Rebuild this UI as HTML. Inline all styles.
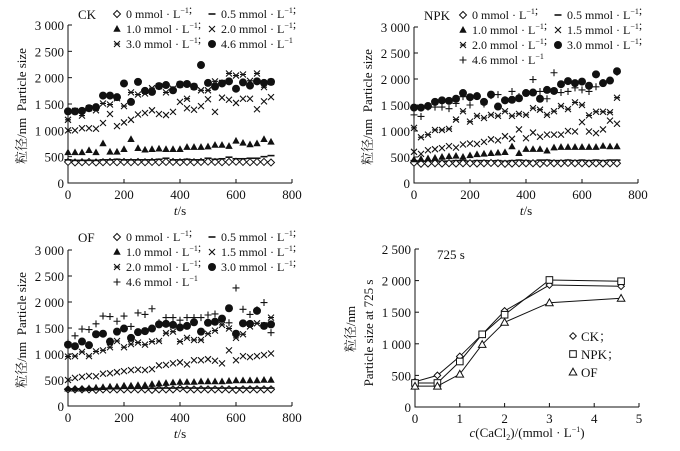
<!DOCTYPE html>
<html><head><meta charset="utf-8"><style>
body{margin:0;background:#fff}
svg{display:block;font-family:"Liberation Serif","Noto Serif CJK SC",serif}
</style></head><body>
<svg id="c" width="680" height="451" viewBox="0 0 680 451"></svg>
<script>
const T=[0,25,50,75,100,125,150,175,200,225,250,275,300,325,350,375,400,425,450,475,500,525,550,575,600,625,650,675,700,725];
const ck0=[400,390,395,400,390,395,400,395,400,395,400,395,400,395,400,400,395,400,395,400,405,400,395,400,405,400,395,400,400,390];
const ck05=[440,430,430,430,430,440,440,450,440,440,440,440,440,450,470,440,440,450,440,440,470,450,460,490,460,460,470,470,500,520];
const ck10=[580,580,580,620,580,750,590,590,640,830,660,630,640,650,640,640,640,680,680,680,690,720,720,700,800,760,730,750,830,780];
const ck20=[1000,1000,1040,1040,1030,1140,1310,1080,1150,1200,1300,1330,1380,1310,1290,1350,1540,1420,1390,1460,1590,1350,1620,1580,1520,1600,1600,1400,1550,1630];
const ck30=[1200,1370,1280,1420,1380,1510,1490,1610,1460,1720,1680,1700,1800,1840,1720,1790,1870,1600,1830,1760,1760,1930,1900,2080,2040,2060,1940,2080,1820,1920];
const ck46=[1360,1360,1370,1420,1440,1660,1660,1630,1890,1540,1920,1750,1730,1840,1860,1760,1870,1880,1830,2240,1900,1830,1890,1930,1790,1910,1850,1930,1900,1920];
const npk0=[390,370,375,380,375,380,375,380,380,375,380,385,380,370,375,380,380,380,370,385,380,380,385,380,380,375,380,375,380,380];
const npk05=[430,420,420,425,420,420,430,430,420,430,430,425,430,420,430,440,430,420,440,440,430,430,440,430,440,430,440,430,440,440];
const npk10=[450,460,470,480,500,510,520,500,530,550,560,570,580,590,700,570,650,650,650,620,680,690,690,690,690,690,690,710,700,700];
const npk15=[600,560,630,650,670,710,680,740,760,750,790,840,820,900,850,1030,860,970,890,930,930,930,1000,990,1170,990,960,1030,1200,1140];
const npk20=[1060,880,930,1020,1020,1040,1220,1380,1180,1290,1250,1310,1290,1380,1290,1330,1310,1440,1410,1310,1380,1480,1420,1550,1500,1300,1370,1370,1360,1640];
const npk30=[1450,1450,1480,1560,1590,1580,1620,1730,1650,1670,1560,1700,1470,1590,1600,1630,1730,1740,1620,1790,1770,1900,1960,1920,1950,1870,2090,1920,1970,2150];
const npk46=[1310,1280,1460,1460,1460,1430,1530,1660,1500,1680,1520,1680,1700,1600,1760,1660,1740,1990,1760,1620,2120,1740,1760,1830,1790,1760,1850,1930,1970,2130];
const of0=[320,320,320,320,310,320,320,320,320,320,320,320,310,320,320,320,340,320,320,320,320,320,320,320,310,320,320,320,320,320];
const of05=[330,330,330,335,335,340,340,340,340,340,340,340,340,345,345,345,350,345,345,345,345,345,345,345,345,345,345,345,345,345];
const of10=[330,330,330,340,350,360,370,370,390,390,400,400,420,430,440,450,460,460,460,470,470,470,470,480,490,490,490,490,500,500];
const of15=[500,540,560,580,570,620,630,650,670,690,700,690,710,780,790,820,840,800,880,880,900,870,820,1070,880,960,940,960,980,1010];
const of20=[950,960,1040,960,1050,1070,1130,1250,1130,1190,1220,1180,1240,1250,1400,1430,1240,1310,1270,1270,1390,1450,1560,1490,1310,1380,1530,1590,1550,1700];
const of30=[1180,1150,1240,1170,1380,1390,1240,1430,1490,1310,1420,1440,1490,1570,1580,1560,1510,1540,1610,1430,1600,1620,1680,1880,1390,1590,1580,1830,1540,1570];
const of46=[1220,1350,1480,1470,1580,1730,1720,1630,1730,1530,1790,1760,1870,1600,1700,1700,1650,1700,1700,1700,1750,1770,1650,1600,2270,1860,1760,1850,1990,1410];
const conc=[0,0.5,1,1.5,2,3,4.6];
const sumCK=[400,500,800,1150,1520,1930,1910];
const sumNPK=[380,380,720,1150,1460,2010,1990];
const sumOF=[330,330,520,990,1340,1650,1720];
const yTicks=[0,500,1000,1500,2000,2500,3000];
const yLab=["0","500","1 000","1 500","2 000","2 500","3 000"];
const xTicks=[0,200,400,600,800];
const y4Ticks=[0,500,1000,1500,2000,2500];
const y4Lab=["0","500","1 000","1 500","2 000","2 500"];
const x4Ticks=[0,1,2,3,4,5];

const svg=document.getElementById('c');
const NS='http://www.w3.org/2000/svg';
function el(tag,attrs,parent){const e=document.createElementNS(NS,tag);for(const k in attrs)e.setAttribute(k,attrs[k]);(parent||svg).appendChild(e);return e;}
function txt(s,x,y,size,anchor,parent){const t=el('text',{x:x,y:y,'font-size':size,'text-anchor':anchor||'start',fill:'#111'},parent);t.innerHTML=s;return t;}
function marker(type,x,y,g){
  const s='#111';
  if(type==='dia')return el('path',{d:`M${x} ${y-3.5}L${x+3.5} ${y}L${x} ${y+3.5}L${x-3.5} ${y}Z`,fill:'#fff',stroke:s,'stroke-width':1},g);
  if(type==='dash')return el('path',{d:`M${x-3.5} ${y}H${x+3.5}`,stroke:s,'stroke-width':1.6},g);
  if(type==='tri')return el('path',{d:`M${x} ${y-4}L${x+3.7} ${y+2.7}L${x-3.7} ${y+2.7}Z`,fill:s},g);
  if(type==='x')return el('path',{d:`M${x-3} ${y-3}L${x+3} ${y+3}M${x+3} ${y-3}L${x-3} ${y+3}`,stroke:s,'stroke-width':1.1},g);
  if(type==='ast')return el('path',{d:`M${x-3} ${y-3}L${x+3} ${y+3}M${x+3} ${y-3}L${x-3} ${y+3}M${x-3} ${y}H${x+3}`,stroke:s,'stroke-width':1.1},g);
  if(type==='dot')return el('circle',{cx:x,cy:y,r:4,fill:s},g);
  if(type==='plus')return el('path',{d:`M${x-3.5} ${y}H${x+3.5}M${x} ${y-3.5}V${y+3.5}`,stroke:s,'stroke-width':1.1},g);
  if(type==='odia')return el('path',{d:`M${x} ${y-3.3}L${x+3.3} ${y}L${x} ${y+3.3}L${x-3.3} ${y}Z`,fill:'#fff',stroke:s,'stroke-width':1},g);
  if(type==='sq')return el('rect',{x:x-3.3,y:y-3.3,width:6.6,height:6.6,fill:'#fff',stroke:s,'stroke-width':1},g);
  if(type==='otri')return el('path',{d:`M${x} ${y-3.8}L${x+3.8} ${y+3}L${x-3.8} ${y+3}Z`,fill:'#fff',stroke:s,'stroke-width':1},g);
}
const U='mmol · L<tspan dy="-5" font-size="8">−1</tspan><tspan dy="5"></tspan>';

function panel(name,ox,y0,y3000,title,series,legend,ystart){
  const g=el('g',{});
  
  
  const sx=v=>ox+v*(224/800), sy=v=>y0-v*(y0-y3000)/3000;
  const ax=el('path',{d:`M${ox} ${y3000}V${y0}H${sx(800)}`,stroke:'#111',fill:'none','stroke-width':1},g);
  
  
  yTicks.forEach((v,i)=>{el('path',{d:`M${ox} ${sy(v)}H${ox+4}`,stroke:'#111'},g);const t=txt(yLab[i],ox-4,sy(v)+5,13,'end',g);});
  xTicks.forEach(v=>{el('path',{d:`M${sx(v)} ${y0}V${y0-4}`,stroke:'#111'},g);const t=txt(v,sx(v),y0+16,13,'middle',g);});
  const xl=txt('<tspan font-style="italic">t</tspan>/s',ox+112,y0+32,13,'middle',g);
  
  const yl=el('text',{x:0,y:0,'font-size':13,'text-anchor':'middle',fill:'#111',transform:`translate(${ox-42},${(y0+y3000)/2+2}) rotate(-90)`},g);
  yl.innerHTML='粒径/nm&#160;&#160;Particle size';
  
  const tt=txt(title,ox+10,ystart+5,13,'start',g);
  
  series.forEach(([data,type])=>{
    const sg=el('g',{},g);
    
    
    data.forEach((v,i)=>{const m=marker(type,sx(T[i]),sy(v),sg);});
  });
  legend.forEach(([type,lab],i)=>{
    const col=i%2,row=Math.floor(i/2);
    const lx=ox+(col?144:49), ly=ystart+row*15;
    const lg=el('g',{},g);
    
    
    marker(type,lx,ly,lg);
    txt(lab+' '+U+(i<legend.length-1?';':''),lx+9,ly+4,12,'start',lg);
  });
}
panel('ck',68,183,25,'CK',[[ck0,'dia'],[ck05,'dash'],[ck10,'tri'],[ck20,'x'],[ck30,'ast'],[ck46,'dot']],
 [['dia','0'],['dash','0.5'],['tri','1.0'],['x','2.0'],['ast','3.0'],['dot','4.6']],14);
panel('npk',414,183,27,'NPK',[[npk05,'dash'],[npk0,'dia'],[npk10,'tri'],[npk15,'x'],[npk20,'ast'],[npk30,'dot'],[npk46,'plus']],
 [['dia','0'],['dash','0.5'],['tri','1.0'],['x','1.5'],['ast','2.0'],['dot','3.0'],['plus','4.6']],15);
panel('of',68,406,250,'OF',[[of0,'dia'],[of05,'dash'],[of10,'tri'],[of15,'x'],[of20,'ast'],[of30,'dot'],[of46,'plus']],
 [['dia','0'],['dash','0.5'],['tri','1.0'],['x','1.5'],['ast','2.0'],['dot','3.0'],['plus','4.6']],237);

(function(){
  const g=el('g',{});
  
  
  const ox=415,y0=407,yt=249;
  const sx=v=>ox+v*44.8, sy=v=>y0-v*(y0-yt)/2500;
  const ax=el('path',{d:`M${ox} ${yt}V${y0}H${sx(5)}`,stroke:'#111',fill:'none'},g);
  
  y4Ticks.forEach((v,i)=>{el('path',{d:`M${ox} ${sy(v)}H${ox+4}`,stroke:'#111'},g);const t=txt(y4Lab[i],ox-4,sy(v)+5,13,'end',g);});
  x4Ticks.forEach(v=>{el('path',{d:`M${sx(v)} ${y0}V${y0-4}`,stroke:'#111'},g);const t=txt(v,sx(v),y0+16,13,'middle',g);});
  const xl=txt('<tspan font-style="italic">c</tspan>(CaCl<tspan dy="3" font-size="8">2</tspan><tspan dy="-3">)/(mmol · L</tspan><tspan dy="-5" font-size="8">−1</tspan><tspan dy="5">)</tspan>',527,437,13,'middle',g);
  
  const y1=el('text',{x:0,y:0,'font-size':13,'text-anchor':'middle',fill:'#111',transform:'translate(355,329) rotate(-90)'},g);y1.textContent='粒径/nm';
  
  const y2=el('text',{x:0,y:0,'font-size':13,'text-anchor':'middle',fill:'#111',transform:'translate(373,333) rotate(-90)'},g);y2.textContent='Particle size at 725 s';
  
  const t=txt('725 s',437,259,13,'start',g);
  [[sumCK,'odia'],[sumNPK,'sq'],[sumOF,'otri']].forEach(([d,type])=>{
    const sg=el('g',{},g);
    
    
    el('polyline',{points:d.map((v,i)=>sx(conc[i])+','+sy(v)).join(' '),fill:'none',stroke:'#111','stroke-width':1},sg);
    d.forEach((v,i)=>{const m=marker(type,sx(conc[i]),sy(v),sg);});
  });
  [['odia','CK；'],['sq','NPK；'],['otri','OF']].forEach(([type,lab],i)=>{
    const lg=el('g',{},g);
    
    
    marker(type,573,336+i*18,lg);
    txt(lab,581,341+i*18,13,'start',lg);
  });
})();
</script>
</body></html>
